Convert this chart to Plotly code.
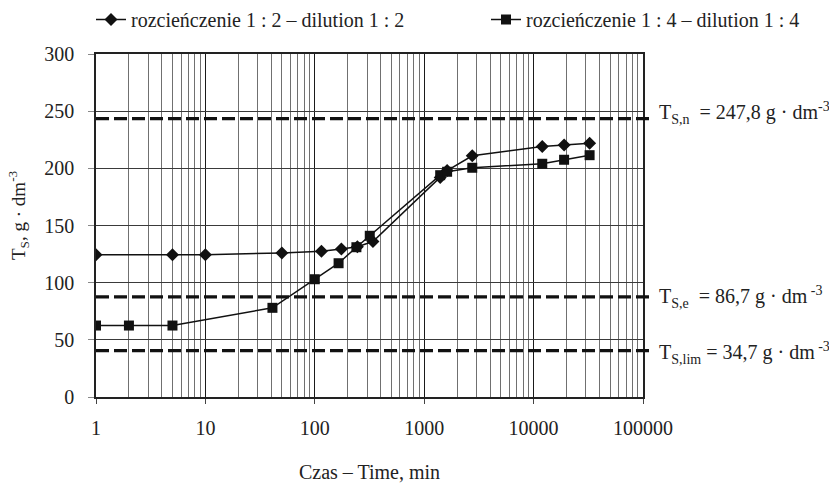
import plotly.graph_objects as go

# ---- data ----
time_12 = [1, 5, 10, 50, 115, 175, 245, 340, 1400, 1620, 2750, 12000, 19000, 32500]
ts_12 = [124.5, 124.5, 124.5, 126, 127.5, 129.5, 131.5, 136, 192, 198, 211, 219, 220.5, 222]

time_14 = [1, 2, 5, 41, 100, 165, 240, 318, 1400, 1620, 2750, 12000, 19000, 32500]
ts_14 = [62.5, 62.5, 62.5, 78, 103, 117, 131, 141, 194, 197, 200.5, 204, 207.5, 211.5]

series_names = ["rozcieńczenie 1 : 2 – dilution 1 : 2", "rozcieńczenie 1 : 4 – dilution 1 : 4"]

ref_levels = [243.5, 87.5, 40.5]
ref_labels = [
    "T<sub>S,n</sub>  = 247,8 g · dm<sup>-3</sup>",
    "T<sub>S,e</sub>  = 86,7 g · dm<sup> -3</sup>",
    "T<sub>S,lim</sub> = 34,7 g · dm<sup> -3</sup>",
]

x_tickvals = [1, 10, 100, 1000, 10000, 100000]
x_ticktext = ["1", "10", "100", "1000", "10000", "100000"]
y_tickvals = [0, 50, 100, 150, 200, 250, 300]

FONT = "Liberation Serif, Times New Roman, Times, serif"

fig = go.Figure()
fig.add_trace(go.Scatter(
    x=time_12, y=ts_12, name=series_names[0], mode="lines+markers",
    line=dict(color="#111111", width=1.5),
    marker=dict(symbol="diamond", size=10, color="#111111"),
    legend="legend",
))
fig.add_trace(go.Scatter(
    x=time_14, y=ts_14, name=series_names[1], mode="lines+markers",
    line=dict(color="#111111", width=1.5),
    marker=dict(symbol="square", size=10, color="#111111"),
    legend="legend2",
))

for lvl in ref_levels:
    fig.add_shape(type="line", xref="paper", yref="y", x0=0, x1=1.02, y0=lvl, y1=lvl,
                  line=dict(color="#111111", width=3.2, dash="13px,5px"), layer="above")

for lvl, lab, dy in zip(ref_levels, ref_labels, [6, 0, -2]):
    fig.add_annotation(xref="paper", yref="y", x=1.0, y=lvl, xshift=14, yshift=dy,
                       text=lab, showarrow=False, xanchor="left", yanchor="middle",
                       font=dict(family=FONT, size=20, color="#222222"))

fig.add_annotation(xref="paper", yref="paper", x=-0.143, y=0.53,
                   text="T<sub>S</sub>, g · dm<sup>-3</sup>", textangle=-90, showarrow=False,
                   xanchor="center", yanchor="middle",
                   font=dict(family=FONT, size=19, color="#222222"))

legend_common = dict(orientation="h", xref="container", yref="container", y=1.0,
                     xanchor="left", yanchor="top", bgcolor="rgba(0,0,0,0)",
                     font=dict(family=FONT, size=20, color="#222222"))

fig.update_layout(
    width=829, height=483,
    margin=dict(l=96, r=186, t=54, b=86, autoexpand=False),
    paper_bgcolor="white", plot_bgcolor="white",
    font=dict(family=FONT, size=20, color="#222222"),
    showlegend=True,
    legend=dict(x=(113 - 22) / 829, **legend_common),
    legend2=dict(x=(508 - 22) / 829, **legend_common),
    xaxis=dict(
        type="log", range=[0, 5], tickmode="array", tickvals=x_tickvals, ticktext=x_ticktext,
        showgrid=True, gridcolor="#1a1a1a", gridwidth=1,
        minor=dict(dtick="D1", showgrid=True, gridcolor="#707070", gridwidth=1, ticks=""),
        ticks="outside", ticklen=5, tickcolor="#444444", ticklabelstandoff=7,
        showline=True, linecolor="#222222", linewidth=1.5, mirror=True,
        title=dict(text="Czas – Time, min", font=dict(family=FONT, size=20), standoff=31),
        zeroline=False,
    ),
    yaxis=dict(
        range=[0, 300], tickmode="array", tickvals=y_tickvals,
        showgrid=True, gridcolor="#3a3a3a", gridwidth=1,
        ticks="outside", ticklen=6, tickcolor="#888888", ticklabelstandoff=10,
        showline=True, linecolor="#222222", linewidth=1.5, mirror=True,
        zeroline=False,
    ),
)

fig.write_html("out.html")
